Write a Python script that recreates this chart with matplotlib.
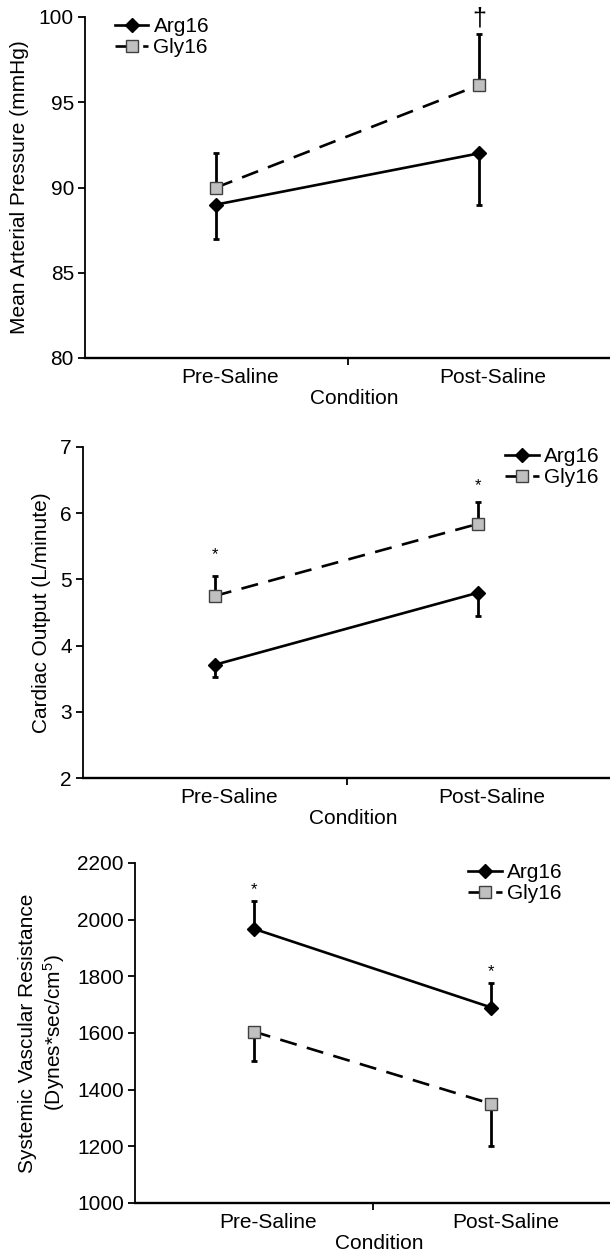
"""
Tres paneles: MAP, gasto cardiaco y RVS, Arg16 vs Gly16
"""

import numpy as np
from matplotlib import pyplot as plt
from matplotlib import transforms

plt.rcParams['font.family'] = ['Liberation Sans', 'DejaVu Sans']
plt.rcParams['mathtext.default'] = 'regular'

# Datos
condiciones = ['Pre-Saline', 'Post-Saline']

map_arg = [89, 92]
map_arg_err = [2, 3]        # hacia abajo
map_gly = [90, 96]
map_gly_err = [2, 3]        # hacia arriba

co_arg = [3.71, 4.80]
co_arg_err = [0.18, 0.35]   # hacia abajo
co_gly = [4.75, 5.84]
co_gly_err = [0.30, 0.33]   # hacia arriba

svr_arg = [1968, 1690]
svr_arg_err = [97, 88]      # hacia arriba
svr_gly = [1605, 1350]
svr_gly_err = [105, 150]    # hacia abajo

x = np.arange(1, len(condiciones) + 1)
fs = 15


def panel(ax, arg, arg_err, arg_up, gly, gly_err, gly_up, ylim, yticks, ylabel,
          sig_txt, sig_fs, sig_pos, sig_y, leg_loc, leg_anchor):
    cero = [0] * len(x)
    e_arg = [cero, arg_err] if arg_up else [arg_err, cero]
    e_gly = [cero, gly_err] if gly_up else [gly_err, cero]

    ax.errorbar(x, gly, yerr=e_gly, fmt='none', ecolor='black', elinewidth=2,
                capsize=2.5, capthick=2, zorder=2)
    ax.errorbar(x, arg, yerr=e_arg, fmt='none', ecolor='black', elinewidth=2,
                capsize=2.5, capthick=2, zorder=2)
    ax.plot(x, arg, color='black', lw=1.9, marker='D', ms=7, mfc='black',
            mec='black', label='Arg16', zorder=3)
    ax.plot(x, gly, color='black', lw=1.9, dashes=(6.5, 4), marker='s', ms=9,
            mfc='#c0c0c0', mec='#404040', mew=1, label='Gly16', zorder=3)

    for i in sig_pos:
        ax.text(x[i], sig_y[i], sig_txt, ha='center', va='center', fontsize=sig_fs)

    ax.set_xlim(0.5, 2.5)
    ax.set_ylim(*ylim)
    ax.set_yticks(yticks)
    ax.set_xticks([1.5])
    ax.set_xticklabels([''])

    # etiquetas de categoria corridas a la derecha como en Excel
    tr = transforms.offset_copy(ax.get_xaxis_transform(), fig=ax.figure,
                                x=14, y=-10, units='dots')
    for xi, c in zip(x, condiciones):
        ax.text(xi, 0, c, transform=tr, ha='center', va='top', fontsize=fs)
    tr2 = transforms.offset_copy(ax.get_xaxis_transform(), fig=ax.figure,
                                 x=7, y=-31, units='dots')
    ax.text(1.5, 0, 'Condition', transform=tr2, ha='center', va='top', fontsize=fs)

    ax.spines['top'].set_visible(False)
    ax.spines['right'].set_visible(False)
    ax.spines['left'].set_linewidth(1.3)
    ax.spines['bottom'].set_linewidth(1.7)
    ax.tick_params(direction='out', length=5, width=1.3, labelsize=fs, pad=3)
    ax.set_ylabel(ylabel, fontsize=fs, labelpad=7)
    ax.legend(loc=leg_loc, bbox_to_anchor=leg_anchor, frameon=False, fontsize=fs,
              handlelength=1.6, handletextpad=0.25, labelspacing=0.1,
              borderaxespad=0, borderpad=0)


fig = plt.figure(figsize=(6.1, 12.55), dpi=100)

ax1 = fig.add_axes([85 / 610, 1 - 358 / 1255, 525 / 610, 341 / 1255])
panel(ax1, map_arg, map_arg_err, False, map_gly, map_gly_err, True,
      (80, 100), np.arange(80, 101, 5), 'Mean Arterial Pressure (mmHg)',
      '†', 18, [1], [None, 99.9], 'upper left', (0.057, 1.0))

ax2 = fig.add_axes([83 / 610, 1 - 778 / 1255, 527 / 610, 331 / 1255])
panel(ax2, co_arg, co_arg_err, False, co_gly, co_gly_err, True,
      (2, 7), np.arange(2, 8, 1), 'Cardiac Output (L/minute)',
      '*', 12, [0, 1], [5.38, 6.42], 'upper right', (0.98, 1.0))

ax3 = fig.add_axes([135 / 610, 1 - 1203 / 1255, 475 / 610, 340 / 1255])
panel(ax3, svr_arg, svr_arg_err, True, svr_gly, svr_gly_err, False,
      (1000, 2200), np.arange(1000, 2201, 200),
      'Systemic Vascular Resistance\n(Dynes*sec/cm$^{5}$)',
      '*', 12, [0, 1], [2105, 1818], 'upper right', (0.9, 1.0))

plt.savefig('out.png')
